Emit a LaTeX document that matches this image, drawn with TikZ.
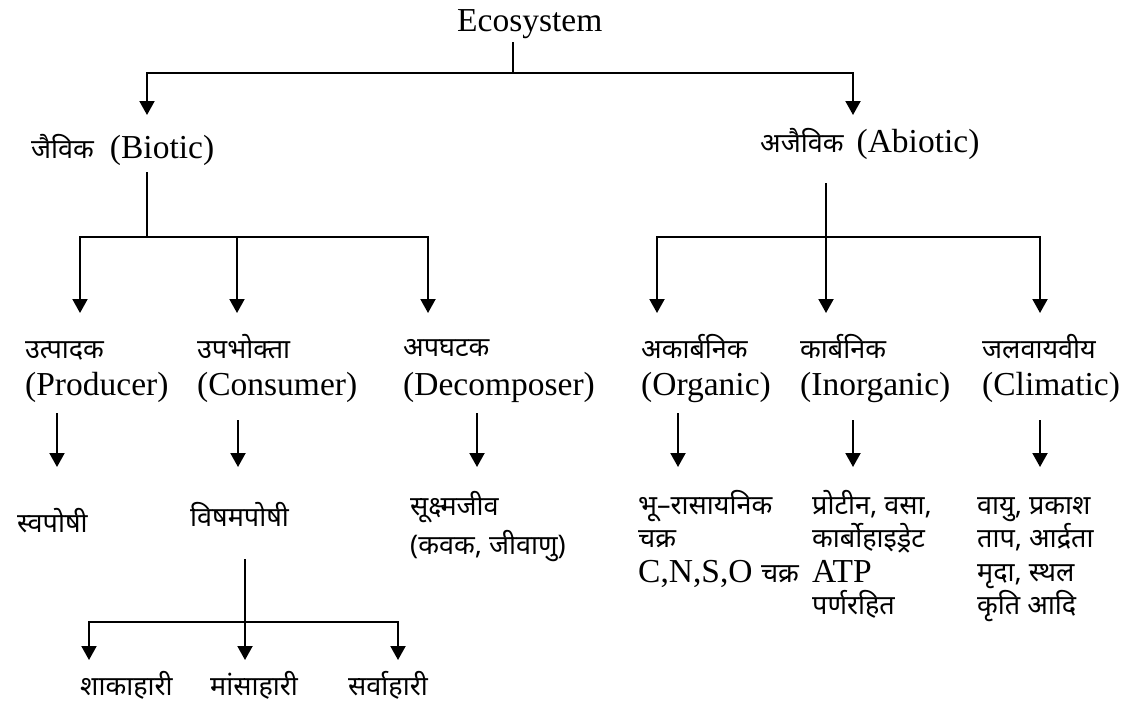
\documentclass[tikz,border=0pt]{standalone}
\usepackage{fontspec}
\setmainfont{Liberation Serif}
\newfontfamily\devfont[Script=Devanagari]{Noto Sans}
\usetikzlibrary{arrows.meta}
\newcommand\hin[1]{{\devfont\fontsize{27}{30}\selectfont #1}}
\tikzset{
  lat/.style={anchor=base west, inner sep=0pt, font=\fontsize{33.5}{36}\selectfont},
  arr/.style={line width=2pt, -{Triangle[length=14pt,width=15pt]}},
  ln/.style={line width=2pt},
}
\begin{document}
\begin{tikzpicture}[x=1pt,y=-1pt]
\useasboundingbox[fill=white] (0,0) rectangle (1142,702);
% level 1
\node[lat] (eco) at (457,31) {Ecosystem};
\node[lat] (bio) at (31,158) {\hin{जैविक}\hspace{16pt}(Biotic)};
\node[lat] (abio) at (760,152) {\hin{अजैविक}\hspace{13pt}(Abiotic)};
% level 2
\node[lat] (prodh) at (25,358) {\hin{उत्पादक}};
\node[lat] (prod) at (25,395) {(Producer)};
\node[lat] (consh) at (197,358) {\hin{उपभोक्ता}};
\node[lat] (cons) at (197,395) {(Consumer)};
\node[lat] (dech) at (403,356) {\hin{अपघटक}};
\node[lat] (dec) at (403,395) {(Decomposer)};
\node[lat] (orgh) at (641,358) {\hin{अकार्बनिक}};
\node[lat] (org) at (641,395) {(Organic)};
\node[lat] (inorgh) at (800,358) {\hin{कार्बनिक}};
\node[lat] (inorg) at (800,395) {(Inorganic)};
\node[lat] (climh) at (982,358) {\hin{जलवायवीय}};
\node[lat] (clim) at (982,395) {(Climatic)};
% level 3
\node[lat] (auto) at (17,532) {\hin{स्वपोषी}};
\node[lat] (hetero) at (190,526) {\hin{विषमपोषी}};
\node[lat] (micro1) at (410,515) {\hin{सूक्ष्मजीव}};
\node[lat] (micro2) at (410,554) {\hin{(कवक, जीवाणु)}};
\node[lat] (geo1) at (638,514) {\hin{भू–रासायनिक}};
\node[lat] (geo2) at (638,547) {\hin{चक्र}};
\node[lat] (geo3) at (638,582) {C,N,S,O \hin{चक्र}};
\node[lat] (pr1) at (812,514) {\hin{प्रोटीन, वसा,}};
\node[lat] (pr2) at (812,547) {\hin{कार्बोहाइड्रेट}};
\node[lat] (pr3) at (812,582) {ATP};
\node[lat] (pr4) at (812,614) {\hin{पर्णरहित}};
\node[lat] (cl1) at (977,514) {\hin{वायु, प्रकाश}};
\node[lat] (cl2) at (977,547) {\hin{ताप, आर्द्रता}};
\node[lat] (cl3) at (977,581) {\hin{मृदा, स्थल}};
\node[lat] (cl4) at (977,614) {\hin{कृति आदि}};
% level 4
\node[lat] (herb) at (80,695) {\hin{शाकाहारी}};
\node[lat] (carn) at (210,695) {\hin{मांसाहारी}};
\node[lat] (omni) at (348,695) {\hin{सर्वाहारी}};
% connector points
\coordinate (ecoS) at (513,42);
\coordinate (j1) at (513,73);
\coordinate (bioT) at (147,115);
\coordinate (abioT) at (853,115);
\coordinate (bioS) at (147,172);
\coordinate (j2) at (147,237);
\coordinate (prodT) at (80,313);
\coordinate (consT) at (237,313);
\coordinate (decT) at (428,313);
\coordinate (abioS) at (826,183);
\coordinate (j3) at (826,237);
\coordinate (orgT) at (657,313);
\coordinate (inorgT) at (826,313);
\coordinate (climT) at (1040,313);
\coordinate (prodS) at (57,413);  \coordinate (autoT) at (57,467);
\coordinate (consS) at (238,420); \coordinate (heteroT) at (238,467);
\coordinate (decS) at (477,413);  \coordinate (microT) at (477,467);
\coordinate (orgS) at (678,413);  \coordinate (geoT) at (678,467);
\coordinate (inorgS) at (853,420);\coordinate (prT) at (853,467);
\coordinate (climS) at (1040,420);\coordinate (clT) at (1040,467);
\coordinate (hetS) at (245,559);
\coordinate (j4) at (245,622);
\coordinate (herbT) at (89,660);
\coordinate (carnT) at (245,660);
\coordinate (omniT) at (398,660);
% connectors
\draw[ln] (ecoS) -- (j1);
\draw[arr] (j1) -| (bioT);
\draw[arr] (j1) -| (abioT);
\draw[ln] (bioS) -- (j2);
\draw[arr] (j2) -| (prodT);
\draw[arr] (j2) -| (consT);
\draw[arr] (j2) -| (decT);
\draw[arr] (abioS) -- (inorgT);
\draw[arr] (j3) -| (orgT);
\draw[arr] (j3) -| (climT);
\draw[arr] (prodS) -- (autoT);
\draw[arr] (consS) -- (heteroT);
\draw[arr] (decS) -- (microT);
\draw[arr] (orgS) -- (geoT);
\draw[arr] (inorgS) -- (prT);
\draw[arr] (climS) -- (clT);
\draw[arr] (hetS) -- (carnT);
\draw[arr] (j4) -| (herbT);
\draw[arr] (j4) -| (omniT);
\end{tikzpicture}
\end{document}
